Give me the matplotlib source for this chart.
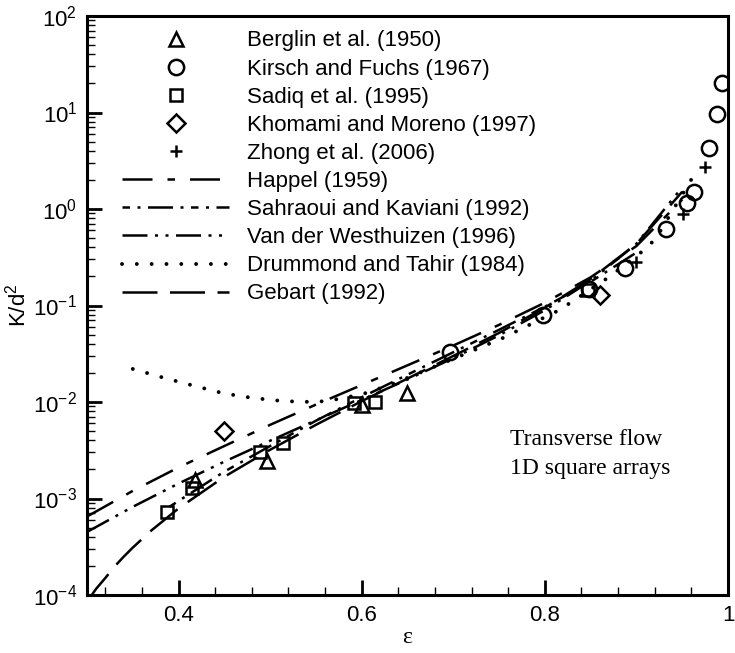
import numpy as np
import matplotlib
matplotlib.use('Agg')
import matplotlib.pyplot as plt
from matplotlib.ticker import FixedLocator, LogLocator, NullFormatter

plt.rcParams['font.family'] = ['Liberation Sans', 'DejaVu Sans']
plt.rcParams['mathtext.fontset'] = 'custom'
plt.rcParams['mathtext.rm'] = 'Liberation Sans'
plt.rcParams['mathtext.it'] = 'Liberation Sans'

eps_berglin = [0.418, 0.497, 0.600, 0.649]
k_berglin = [1.55e-3, 2.45e-3, 9.3e-3, 0.0124]

eps_kirsch = [0.696, 0.798, 0.848, 0.888, 0.932, 0.955, 0.963, 0.979, 0.988, 0.993]
k_kirsch = [0.033, 0.079, 0.15, 0.245, 0.62, 1.15, 1.5, 4.3, 9.6, 20.0]

eps_sadiq = [0.387, 0.415, 0.489, 0.514, 0.592, 0.614, 0.847]
k_sadiq = [7.2e-4, 1.28e-3, 3.0e-3, 3.8e-3, 9.8e-3, 0.0101, 0.145]

eps_khomami = [0.450, 0.860]
k_khomami = [5.0e-3, 0.128]

eps_zhong = [0.900, 0.951, 0.975]
k_zhong = [0.28, 0.88, 2.7]

# model curves
eps_happel = [0.30, 0.35, 0.40, 0.45, 0.50, 0.55, 0.60, 0.65, 0.70, 0.75, 0.80, 0.85, 0.90, 0.95]
k_happel = [6.5e-4, 1.2e-3, 2.1e-3, 3.5e-3, 5.8e-3, 9.4e-3, 0.015, 0.024, 0.0385, 0.063, 0.107, 0.196, 0.413, 1.25]

eps_sahraoui = [0.39, 0.45, 0.50, 0.55, 0.60, 0.65, 0.70, 0.75, 0.80, 0.85, 0.90]
k_sahraoui = [8.2e-4, 1.9e-3, 3.5e-3, 6.4e-3, 0.0112, 0.0192, 0.0328, 0.056, 0.097, 0.176, 0.354]

eps_vdw = [0.30, 0.35, 0.40, 0.45, 0.50, 0.55, 0.60, 0.65, 0.70, 0.75, 0.80, 0.85, 0.90, 0.95]
k_vdw = [4.5e-4, 8.2e-4, 1.43e-3, 2.41e-3, 3.97e-3, 6.46e-3, 0.0105, 0.0171, 0.0285, 0.0491, 0.0894, 0.180, 0.436, 1.68]

eps_drummond = [0.35, 0.384, 0.416, 0.449, 0.481, 0.515, 0.548, 0.564, 0.60, 0.631, 0.70, 0.754, 0.815, 0.83, 0.871, 0.912, 0.922, 0.961]
k_drummond = [0.022, 0.0178, 0.0148, 0.0123, 0.011, 0.0102, 0.0100, 0.0103, 0.012, 0.015, 0.028, 0.046, 0.089, 0.11, 0.20, 0.40, 0.51, 2.1]

eps_gebart = [0.30, 0.31, 0.32, 0.33, 0.34, 0.35, 0.37, 0.40, 0.45, 0.50, 0.55, 0.60, 0.65, 0.70, 0.75, 0.80, 0.85, 0.90, 0.95]
k_gebart = [8.5e-5, 1.16e-4, 1.5e-4, 1.97e-4, 2.49e-4, 3.1e-4, 4.64e-4, 7.9e-4, 1.68e-3, 3.2e-3, 5.8e-3, 0.0102, 0.0175, 0.030, 0.052, 0.095, 0.188, 0.435, 1.51]

x_ticks = [0.4, 0.6, 0.8, 1.0]
x_ticklabels = ['0.4', '0.6', '0.8', '1']

fig = plt.figure(figsize=(7.35, 6.53), dpi=100)
ax = fig.add_axes([87 / 735, 1 - 595 / 653, 641 / 735, 579 / 653])

mk = dict(linestyle='none', color='k', markerfacecolor='none', markeredgewidth=1.8)
ax.plot(eps_berglin, k_berglin, marker='^', markersize=10, label='Berglin et al. (1950)', **mk)
ax.plot(eps_kirsch, k_kirsch, marker='o', markersize=11, label='Kirsch and Fuchs (1967)', **mk)
ax.plot(eps_sadiq, k_sadiq, marker='s', markersize=9, label='Sadiq et al. (1995)', **mk)
ax.plot(eps_khomami, k_khomami, marker='D', markersize=9, label='Khomami and Moreno (1997)', **mk)
ax.plot(eps_zhong, k_zhong, marker='+', markersize=9, label='Zhong et al. (2006)', **mk)

lw = 1.8
ax.plot(eps_happel, k_happel, color='k', lw=lw, dashes=(12, 6, 3, 6), label='Happel (1959)')
ax.plot(eps_sahraoui, k_sahraoui, color='k', lw=lw, dashes=(3, 3, 1.2, 3, 10, 3, 1.2, 3),
        label='Sahraoui and Kaviani (1992)')
ax.plot(eps_vdw, k_vdw, color='k', lw=lw, dashes=(10, 3, 1.2, 3, 1.2, 3),
        label='Van der Westhuizen (1996)')
ax.plot(eps_drummond, k_drummond, color='k', lw=2.8, dashes=(0.01, 3.8),
        dash_capstyle='round', label='Drummond and Tahir (1984)')
ax.plot(eps_gebart, k_gebart, color='k', lw=lw, dashes=(14, 5), label='Gebart (1992)')

ax.set_yscale('log')
ax.set_xlim(0.3, 1.0)
ax.set_ylim(1e-4, 1e2)

ax.xaxis.set_major_locator(FixedLocator(x_ticks))
ax.set_xticklabels(x_ticklabels)
ax.xaxis.set_minor_locator(FixedLocator(np.arange(0.32, 1.0, 0.04)))
ax.yaxis.set_minor_locator(LogLocator(base=10, subs=np.arange(2, 10)))
ax.yaxis.set_minor_formatter(NullFormatter())

ax.tick_params(which='major', direction='in', length=11, width=2, labelsize=16, pad=7)
ax.tick_params(which='minor', direction='in', length=6, width=1)
ax.tick_params(top=False, right=False, which='both')
for s in ax.spines.values():
    s.set_linewidth(2.2)

ax.set_xlabel('ε', fontsize=17, labelpad=1, family=['Liberation Serif', 'DejaVu Serif'])
ax.set_ylabel('K/d$^2$', fontsize=16, labelpad=2)

ax.text(0.66, 0.286, 'Transverse flow\n1D square arrays', transform=ax.transAxes,
        fontsize=17, family=['Liberation Serif', 'DejaVu Serif'], va='top', ha='left',
        linespacing=1.5)

leg = ax.legend(loc='upper left', bbox_to_anchor=(0.055, 0.975), frameon=False,
                fontsize=16, handlelength=4.8, handletextpad=0.8, labelspacing=0.32,
                borderpad=0, borderaxespad=0, numpoints=1)

fig.savefig('out.png', dpi=100)
